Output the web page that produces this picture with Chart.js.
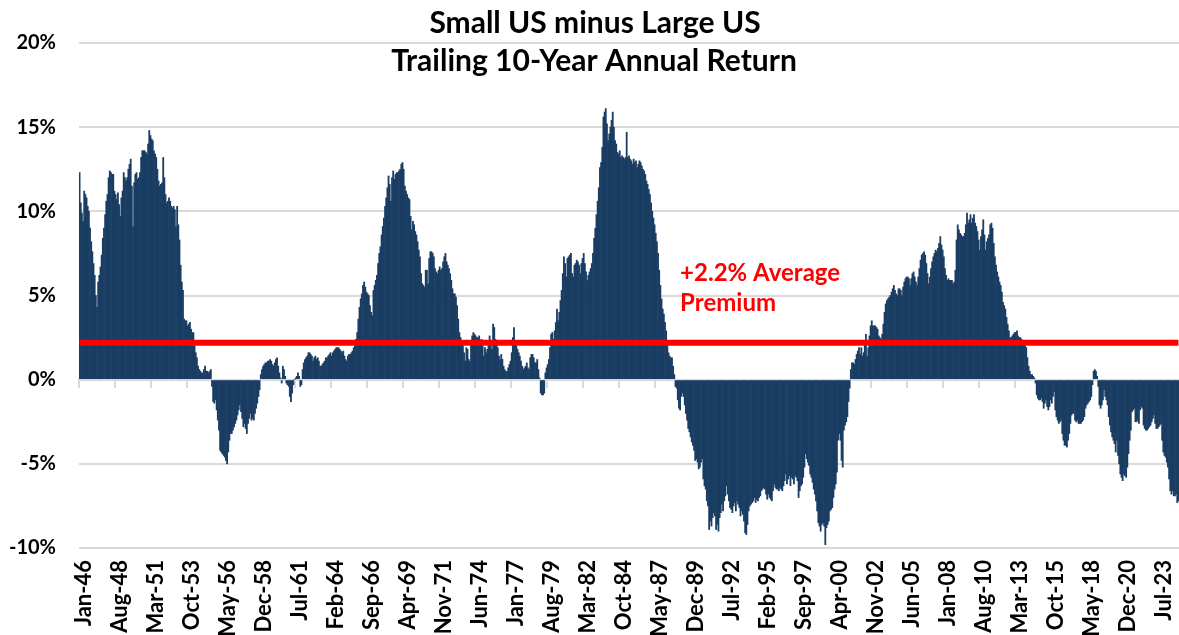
<!DOCTYPE html>
<html>
<head>
<meta charset="utf-8">
<script src="https://cdn.jsdelivr.net/npm/chart.js@4.4.1/dist/chart.umd.min.js"></script>
<style>
html,body{margin:0;padding:0;background:#fff}
#wrap{width:1179px;height:635px;position:relative}
</style>
</head>
<body>
<div id="wrap"><canvas id="premiumChart"></canvas></div>
<script>
// monthly trailing 10y return, small minus large, Jan-46 .. Nov-24 (%)
const premium = [
12.3,10.5,9.9,9.4,11.2,11.0,10.8,10.3,10.0,9.0,8.2,7.6,
6.9,6.2,5.0,4.3,5.8,6.2,6.7,7.4,8.4,9.0,9.8,10.6,
11.0,12.0,12.4,12.3,12.2,12.2,11.2,11.0,10.7,11.1,10.4,9.7,
10.8,11.2,12.3,12.0,11.8,12.0,12.5,12.8,13.1,11.5,9.1,11.7,
12.2,12.3,11.9,12.0,12.3,13.2,13.6,13.6,13.6,13.5,13.4,14.0,
14.8,14.5,14.3,14.2,13.6,13.4,13.2,12.5,11.8,11.5,11.6,11.7,
13.2,12.0,11.0,10.5,10.6,10.8,10.6,10.3,10.2,10.3,10.1,9.1,
10.3,9.2,8.3,6.8,5.8,5.3,3.6,3.5,3.5,3.2,3.3,3.4,
3.0,2.8,2.8,2.0,1.6,1.3,0.8,0.6,0.5,0.4,0.4,0.6,
0.8,0.5,0.5,0.4,0.5,0.6,-0.4,-1.3,-1.4,-1.2,-1.8,-2.4,
-3.0,-4.2,-4.3,-4.4,-4.5,-4.6,-4.8,-5.0,-4.3,-3.6,-3.2,-3.2,
-3.0,-2.8,-2.6,-2.4,-2.1,-1.8,-1.5,-1.9,-2.3,-2.8,-2.6,-2.9,
-3.2,-2.6,-2.3,-2.0,-2.4,-2.3,-2.4,-2.0,-1.7,-1.4,-1.0,-0.6,
0.3,0.6,0.8,0.9,1.0,1.0,1.1,1.1,1.2,1.1,0.9,0.8,
1.0,1.2,1.3,0.8,0.4,0.1,-0.2,0.8,0.6,0.2,-0.2,-0.3,
-0.4,-1.0,-1.3,-0.8,-0.3,0.0,0.1,0.2,0.4,0.2,-0.4,-0.3,
0.6,1.0,1.2,1.3,1.4,1.6,1.6,1.5,1.4,1.1,1.3,1.4,
1.2,1.3,1.1,0.8,0.8,0.9,1.0,1.1,1.3,1.3,1.4,1.5,
1.6,1.4,1.6,1.7,1.8,1.9,1.9,1.9,1.8,1.7,1.6,1.7,
1.4,1.2,1.1,1.4,1.5,1.5,1.6,1.7,1.9,2.0,2.4,2.8,
3.6,4.3,4.8,5.1,5.6,5.8,5.5,5.2,5.1,5.0,4.4,4.0,
3.8,5.3,5.6,5.9,6.2,6.9,7.5,7.9,8.6,9.1,9.6,10.3,
10.8,11.4,12.1,11.6,10.6,12.0,12.4,11.9,12.2,12.3,12.3,12.4,
12.5,12.8,12.9,12.5,11.5,11.2,11.0,10.8,10.7,9.7,8.9,9.4,
9.2,8.8,8.6,8.2,7.7,7.3,6.3,5.7,5.6,5.5,6.5,6.5,
5.7,7.2,7.6,7.6,7.5,7.3,6.6,6.4,6.3,6.5,6.7,6.5,
6.6,7.0,7.3,7.5,7.0,6.8,6.6,6.3,5.9,5.4,5.1,5.1,
4.9,4.4,3.6,2.8,2.5,2.3,2.0,1.6,1.1,1.9,1.8,1.2,
1.1,2.1,2.6,2.8,2.7,2.6,2.5,2.5,2.6,2.3,2.4,2.0,
1.4,1.9,1.6,1.8,2.0,2.6,2.2,1.8,3.3,3.1,2.4,2.1,
1.9,1.4,1.2,1.5,1.2,0.8,0.6,0.5,0.5,0.7,0.9,1.1,
1.6,2.5,3.1,2.1,2.0,1.8,1.6,1.4,1.1,0.8,0.6,0.7,
0.8,1.0,0.7,0.6,1.3,1.5,1.5,1.3,1.0,1.0,1.2,0.6,
0.1,-0.8,-0.9,-0.9,-0.8,0.4,0.7,0.9,1.2,1.9,2.7,2.8,
2.4,2.9,3.4,4.2,3.5,4.0,4.7,5.3,6.3,7.3,6.9,6.1,
7.2,7.3,7.4,7.5,6.3,6.1,6.8,6.9,7.1,7.0,6.8,6.3,
6.9,7.2,7.5,6.9,6.4,5.9,6.2,6.4,6.6,6.9,7.5,8.4,
9.0,9.8,10.6,11.4,12.6,12.9,13.8,15.6,15.9,16.1,15.2,14.2,
14.6,15.0,15.4,15.9,15.0,14.2,14.0,13.5,13.4,13.6,13.2,13.3,
13.2,13.1,13.2,14.7,13.2,13.3,13.1,13.0,12.8,13.1,12.9,13.0,
12.6,12.8,13.0,12.9,12.7,12.5,12.4,12.2,11.8,11.6,11.3,11.0,
10.5,10.0,9.6,9.2,8.7,8.2,7.5,6.5,5.6,4.8,4.2,3.9,
3.4,2.9,2.1,1.6,1.4,1.3,1.3,0.8,0.3,-0.4,-0.5,-1.2,
-1.7,-1.8,-1.0,-0.8,-1.0,-1.5,-2.0,-2.4,-2.9,-3.1,-3.4,-3.7,
-3.9,-4.2,-4.8,-4.7,-4.9,-5.3,-5.2,-4.9,-4.7,-5.9,-6.3,-6.5,
-7.2,-7.5,-8.9,-8.4,-8.7,-8.2,-7.9,-8.1,-8.9,-8.6,-9.0,-8.2,
-7.9,-7.4,-7.8,-7.2,-6.9,-6.3,-6.8,-7.2,-7.6,-7.7,-7.9,-7.5,
-7.3,-7.8,-7.2,-7.4,-7.6,-8.1,-7.8,-8.0,-8.4,-9.1,-9.2,-8.6,
-7.8,-7.5,-7.4,-7.3,-7.2,-7.0,-7.3,-7.1,-7.2,-7.0,-6.9,-6.6,
-6.5,-6.4,-6.5,-6.8,-7.1,-6.8,-7.0,-7.1,-7.2,-6.6,-6.2,-6.4,
-6.5,-6.5,-6.6,-6.4,-6.5,-6.6,-6.3,-6.0,-5.6,-6.2,-5.9,-5.7,
-6.3,-5.8,-5.9,-6.2,-5.7,-5.8,-6.0,-7.0,-6.6,-6.3,-6.2,-5.8,
-5.2,-4.4,-4.7,-4.9,-5.1,-5.6,-5.8,-6.1,-6.5,-6.8,-7.2,-7.8,
-8.5,-8.7,-9.0,-8.6,-8.5,-8.7,-9.8,-8.8,-8.6,-8.4,-7.8,-7.7,
-7.6,-7.0,-6.5,-6.2,-5.5,-3.6,-3.2,-3.6,-4.8,-5.2,-3.0,-2.7,
-2.5,-2.2,-1.3,-0.5,0.6,1.0,1.0,0.9,1.2,1.5,1.7,1.9,
1.5,1.9,1.4,1.6,2.2,2.7,1.4,1.9,2.6,3.2,3.5,3.2,
3.2,3.2,3.1,3.0,2.6,2.5,2.4,2.7,3.3,4.0,4.5,4.7,
4.8,4.9,5.0,5.2,5.4,5.6,5.3,5.1,5.0,5.4,5.4,5.3,
5.0,5.5,5.8,6.0,6.1,6.1,6.0,5.6,6.0,6.3,6.4,6.1,
5.8,5.6,6.1,6.6,7.1,7.4,7.5,7.6,7.4,6.9,6.3,5.7,
6.1,6.6,7.0,7.3,7.5,7.7,7.6,7.8,8.1,8.5,8.0,7.7,
7.3,6.6,6.2,5.9,6.0,5.9,5.9,5.9,5.7,5.8,6.5,8.3,
9.2,8.9,8.7,8.6,8.5,8.5,8.7,9.2,9.9,9.3,9.5,9.8,
9.3,9.6,9.8,9.3,9.1,8.8,8.3,7.7,8.5,8.9,9.5,8.6,
7.7,8.2,8.4,8.6,9.2,9.3,9.0,8.1,7.3,6.8,6.4,6.1,
5.8,5.6,5.2,4.6,4.4,4.2,3.7,3.3,2.9,2.5,2.5,2.6,
2.7,2.8,2.8,2.9,2.6,2.5,2.5,2.4,2.3,2.1,2.0,1.9,
1.3,0.8,0.5,0.3,0.3,0.2,0.1,-0.2,-0.9,-1.1,-1.2,-1.2,
-1.1,-1.3,-1.7,-1.4,-1.2,-1.6,-1.8,-1.6,-1.2,-1.4,-1.0,-0.7,
-1.8,-2.2,-2.4,-2.6,-2.5,-2.4,-3.2,-3.6,-3.9,-3.9,-4.0,-3.6,
-3.2,-2.6,-2.1,-2.0,-2.0,-2.4,-2.5,-2.4,-2.6,-2.6,-2.6,-2.5,
-2.4,-2.2,-1.7,-1.5,-1.4,-1.3,-1.2,-1.0,-0.3,0.5,0.6,0.5,
0.2,-0.4,-1.5,-1.7,-1.5,-1.2,-0.6,-1.0,-1.2,-1.5,-2.2,-2.7,
-3.1,-3.4,-3.6,-3.8,-4.3,-3.6,-4.5,-5.0,-5.6,-5.8,-6.0,-5.6,
-5.7,-5.8,-5.2,-4.4,-3.6,-3.0,-1.9,-1.8,-1.7,-2.5,-2.5,-2.4,
-2.6,-1.8,-1.6,-1.7,-2.7,-2.9,-3.0,-3.0,-2.9,-2.8,-2.7,-2.5,
-2.3,-2.1,-2.6,-2.9,-2.9,-2.8,-2.7,-2.6,-3.6,-4.3,-4.5,-4.6,
-4.9,-5.2,-5.9,-6.6,-6.8,-6.6,-6.9,-6.9,-6.8,-7.3,-7.2
]

const monthNames = ["Jan","Feb","Mar","Apr","May","Jun","Jul","Aug","Sep","Oct","Nov","Dec"]
const startYear = 1946
const labelEvery = 31
const averagePremium = 2.2
const yTicks = {min: -10, max: 20, step: 5}

const labels = premium.map((_, i) => monthNames[i % 12] + "-" + String((startYear + Math.floor(i / 12)) % 100).padStart(2, "0"))

const navy = "#1a3d63"
const grey = "#d9d9d9"
const font = "Lato, 'Liberation Sans', sans-serif"

// title and red note are drawn on top of the plot, like the original
const overlayText = {
  id: "overlayText",
  afterDraw(chart) {
    const ctx = chart.ctx
    const x = chart.scales.x
    const y = chart.scales.y
    ctx.save()
    ctx.fillStyle = "#000"
    ctx.textAlign = "center"
    ctx.textBaseline = "alphabetic"
    ctx.font = "bold 30px " + font
    ctx.fillText("Small US minus Large US", 595, 33)
    ctx.fillText("Trailing 10-Year Annual Return", 594, 71)

    ctx.fillStyle = "#ff0000"
    ctx.textAlign = "left"
    ctx.font = "bold 24px " + font
    const nx = x.getPixelForValue(517)
    ctx.fillText("+2.2% Average", nx, y.getPixelForValue(5.85))
    ctx.fillText("Premium", nx, y.getPixelForValue(4.1))
    ctx.restore()
  }
}

new Chart(document.getElementById("premiumChart"), {
  type: "bar",
  data: {
    labels: labels,
    datasets: [{
      type: "line",
      data: labels.map(() => averagePremium),
      borderColor: "#ff0000",
      borderWidth: 6,
      pointRadius: 0,
      fill: false,
      order: 0
    }, {
      data: premium,
      backgroundColor: navy,
      borderWidth: 0,
      barPercentage: 1,
      categoryPercentage: 1,
      order: 1
    }]
  },
  options: {
    responsive: true,
    maintainAspectRatio: false,
    animation: false,
    events: [],
    layout: {padding: {top: 43, right: 0, left: 0, bottom: 0}},
    plugins: {
      legend: {display: false},
      tooltip: {enabled: false},
      title: {display: false}
    },
    scales: {
      x: {
        type: "category",
        offset: true,
        grid: {display: false},
        border: {display: false},
        ticks: {
          autoSkip: false,
          minRotation: 90,
          maxRotation: 90,
          padding: 4,
          labelOffset: 4,
          color: "#000",
          font: {family: font, size: 22, weight: "bold"},
          callback: (v, i) => i % labelEvery === 0 ? labels[i] : null
        },
        afterFit: s => { s.height = 87; s.paddingLeft = 0; s.paddingRight = 0 }
      },
      xZero: {
        type: "category",
        axis: "x",
        position: {y: 0},
        offset: true,
        z: 1,
        grid: {
          offset: true,
          drawOnChartArea: false,
          drawTicks: true,
          tickLength: 7,
          lineWidth: 2,
          color: c => c.index % labelEvery === 0 ? grey : "rgba(0,0,0,0)"
        },
        border: {display: true, color: grey, width: 2},
        ticks: {display: false}
      },
      y: {
        min: yTicks.min,
        max: yTicks.max,
        grid: {color: grey, lineWidth: 2, drawTicks: false},
        border: {display: false},
        ticks: {
          stepSize: yTicks.step,
          padding: 23,
          color: "#000",
          font: {family: font, size: 20, weight: "bold"},
          callback: v => v + "%"
        },
        afterFit: s => { s.width = 79 }
      }
    }
  },
  plugins: [overlayText]
})
</script>
</body>
</html>
